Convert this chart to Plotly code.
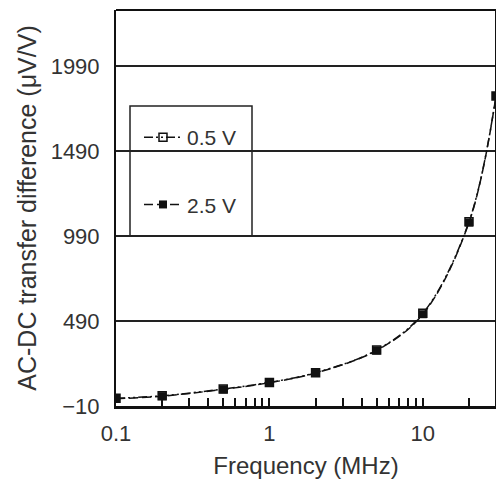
import plotly.graph_objects as go

freq = [0.1, 0.2, 0.5, 1, 2, 5, 10, 20, 30]
v05 = [35, 50, 90, 129, 186, 319, 535, 1074, 1814]
v25 = [33, 48, 88, 127, 184, 317, 530, 1070, 1814]
yticks = [-10, 490, 990, 1490, 1990]
xticks = [0.1, 1, 10]
xtick_text = ["0.1", "1", "10"]
minor_x = [0.2, 0.3, 0.4, 0.5, 0.6, 0.7, 0.8, 0.9, 2, 3, 4, 5, 6, 7, 8, 9, 20, 30]

FONT = "Liberation Sans"
TXT = "#333"

# plot area on screen: x 116..496, y 10..406
L, R, T, B = 116, 496, 10, 406
def px(x):
    return (x - L) / (R - L)
def py(y):
    return (B - y) / (B - T)

fig = go.Figure()
fig.add_trace(go.Scatter(
    x=freq, y=v05, name="0.5 V", mode="lines+markers", legendgroup="a",
    line=dict(color="#111", width=1.5, dash="9px,3px,2px,3px,2px,3px", shape="spline"),
    marker=dict(symbol="square-open", size=8, color="#111", line=dict(width=1.5)),
))
fig.add_trace(go.Scatter(
    x=freq, y=v25, name="2.5 V", mode="lines+markers", legendgroup="b",
    line=dict(color="#111", width=1.5, dash="9px,4px", shape="spline"),
    marker=dict(symbol="square", size=8, color="#111"),
))

fig.add_shape(type="rect", xref="paper", yref="paper",
              x0=px(130), x1=px(252), y0=py(236), y1=py(106),
              line=dict(color="#222", width=1.5), fillcolor="white", layer="below")

fig.update_layout(
    width=496, height=483,
    margin=dict(l=L, r=496 - R, t=T, b=483 - B, autoexpand=False),
    paper_bgcolor="white", plot_bgcolor="white",
    font=dict(family=FONT, size=22, color=TXT),
    showlegend=True,
    legend=dict(x=px(139), y=py(117), xanchor="left", yanchor="top",
                bgcolor="rgba(0,0,0,0)", borderwidth=0, itemwidth=38,
                tracegroupgap=37, font=dict(size=21, family=FONT, color=TXT)),
    xaxis=dict(
        type="log", range=[-1, 1.477],
        tickvals=xticks, ticktext=xtick_text,
        ticks="inside", ticklen=8, tickwidth=1.5, tickcolor="#111",
        minor=dict(tickvals=minor_x, ticks="inside", ticklen=8, tickwidth=1.5, tickcolor="#111"),
        tickfont=dict(size=22),
        ticklabelstandoff=6,
        showgrid=False, showline=True, linecolor="#111", linewidth=3, mirror=False,
        zeroline=False,
        title=dict(text="Frequency (MHz)", font=dict(size=24), standoff=12),
    ),
    yaxis=dict(
        range=[-10, 2320], tickvals=yticks,
        ticks="", showgrid=True, gridcolor="#222", gridwidth=1.5,
        tickfont=dict(size=22),
        ticklabelstandoff=10,
        showline=True, linecolor="#111", linewidth=2, mirror=True,
        zeroline=False,
        title=dict(text="AC-DC transfer difference (μV/V)", font=dict(size=25), standoff=7),
    ),
)
fig.add_shape(type="line", xref="paper", yref="paper", x0=0, x1=1, y0=1, y1=1,
              line=dict(color="#111", width=2))
fig.add_shape(type="line", xref="paper", yref="paper", x0=1, x1=1, y0=0, y1=1,
              line=dict(color="#111", width=2))

fig.write_html("out.html", config={"displayModeBar": False},
               post_script="document.body.style.margin='0';document.body.style.overflow='hidden';")
